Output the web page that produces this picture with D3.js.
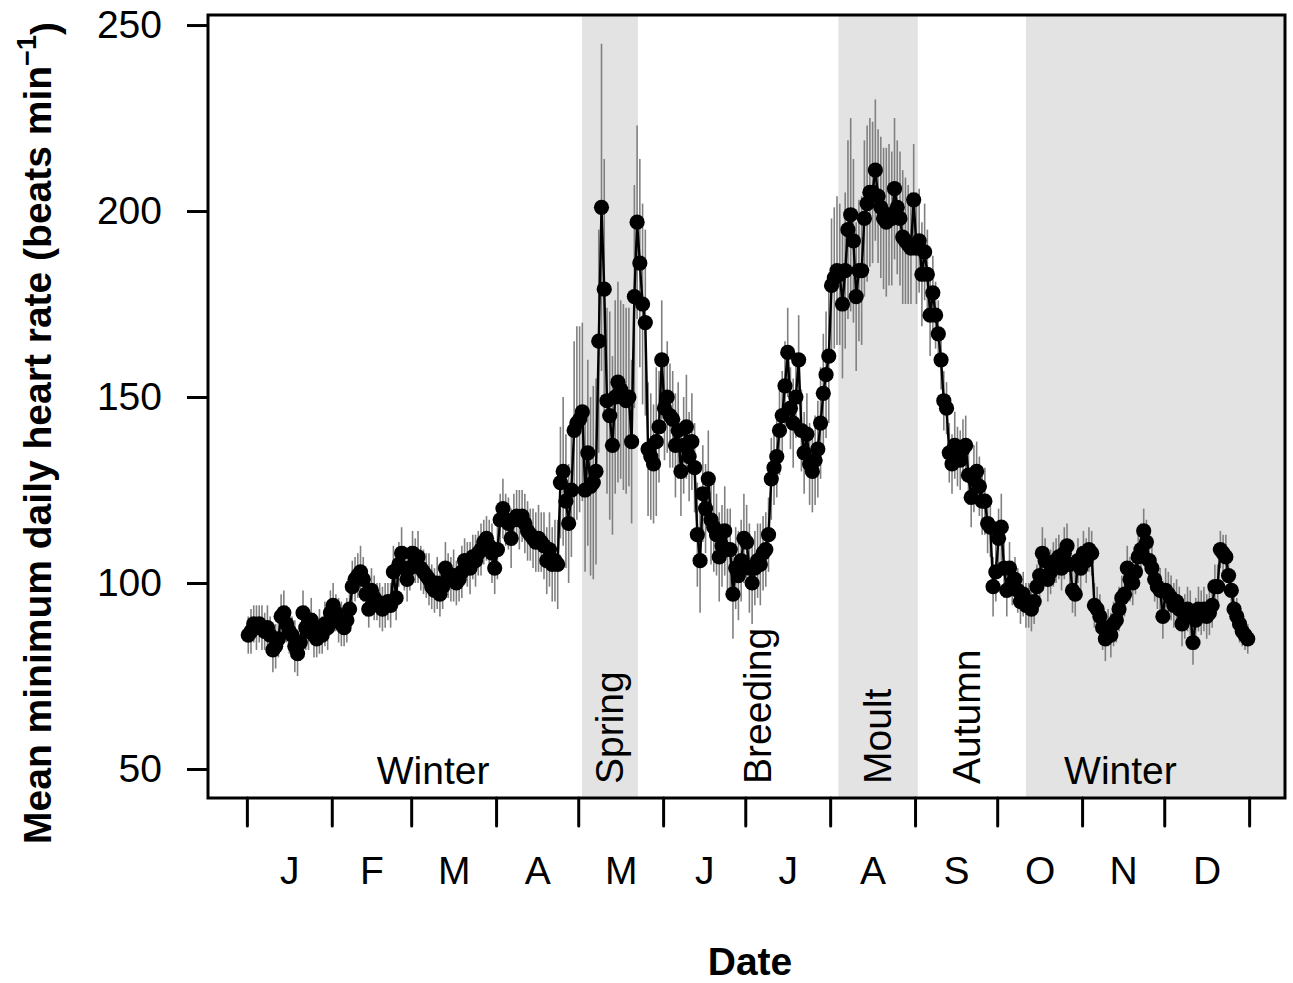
<!DOCTYPE html>
<html>
<head>
<meta charset="utf-8">
<script src="https://d3js.org/d3.v7.min.js"></script>
<style>
  body { margin: 0; background: #ffffff; }
  text { font-family: "Liberation Sans", Arial, sans-serif; fill: #000000; }
</style>
</head>
<body>
<script>
// month labels and days per month (leap year)
var monthLabels = ["J", "F", "M", "A", "M", "J", "J", "A", "S", "O", "N", "D"];
var monthDays = [31, 29, 31, 30, 31, 30, 31, 31, 30, 31, 30, 31];
var yTicks = [50, 100, 150, 200, 250];

// mean minimum daily heart rate (beats per minute), one value per day
var hrJan = [86, 87, 89, 88, 89, 88, 87, 88, 86, 82, 83, 85, 91, 92, 89, 87, 86, 83, 81, 84, 92, 88, 87, 90, 86, 85, 87, 86, 89, 88, 92];
var hrFeb = [94, 92, 90, 89, 88, 90, 93, 99, 101, 102, 103, 101, 97, 93, 98, 96, 95, 94, 93, 94, 95, 94, 103, 96, 105, 108, 104, 101, 104];
var hrMar = [108, 106, 107, 104, 103, 102, 101, 99, 98, 100, 97, 99, 104, 102, 101, 102, 100, 101, 103, 106, 105, 104, 107, 106, 108, 109, 111, 112, 110, 108, 104];
var hrApr = [109, 117, 120, 117, 116, 112, 117, 118, 117, 118, 116, 114, 113, 112, 111, 112, 111, 110, 106, 109, 105, 106, 105, 127, 130, 122, 116, 125, 141, 143];
var hrMay = [144, 146, 125, 135, 126, 127, 130, 165, 201, 179, 149, 145, 137, 150, 154, 152, 150, 149, 150, 138, 177, 197, 186, 175, 170, 136, 134, 132, 138, 142, 160];
var hrJun = [147, 150, 145, 144, 137, 141, 130, 137, 142, 134, 138, 131, 113, 106, 124, 120, 128, 117, 115, 113, 107, 110, 114, 109, 109, 97, 104, 102, 106, 112];
var hrJul = [111, 104, 100, 104, 106, 105, 108, 109, 113, 128, 131, 134, 141, 145, 153, 162, 147, 143, 150, 160, 141, 135, 140, 132, 130, 133, 136, 143, 151, 156, 161];
var hrAug = [180, 182, 184, 183, 175, 184, 195, 199, 192, 177, 184, 184, 198, 202, 205, 205, 211, 204, 201, 198, 197, 199, 198, 206, 201, 198, 193, 192, 191, 190, 203];
var hrSep = [190, 192, 183, 189, 183, 172, 178, 172, 167, 160, 149, 147, 135, 132, 137, 134, 133, 136, 137, 129, 123, 128, 130, 126, 122, 122, 116, 115, 99, 103];
var hrOct = [112, 115, 104, 98, 104, 100, 101, 98, 95, 97, 94, 94, 93, 95, 99, 102, 108, 106, 101, 103, 105, 106, 107, 104, 108, 110, 105, 98, 97, 106, 104];
var hrNov = [108, 106, 109, 108, 94, 93, 91, 88, 85, 88, 86, 89, 90, 93, 96, 97, 104, 101, 100, 103, 107, 109, 114, 111, 106, 104, 101, 99, 98, 91];
var hrDec = [98, 97, 96, 94, 95, 93, 89, 91, 93, 92, 84, 90, 93, 92, 93, 91, 92, 94, 99, 99, 109, 108, 107, 102, 98, 93, 91, 89, 87, 86, 85];

// half length of the error bars per day
var errJan = [5, 6, 5, 6, 5, 6, 5, 6, 5, 6, 6, 5, 6, 6, 5, 6, 5, 7, 6, 5, 6, 6, 5, 6, 6, 5, 6, 5, 6, 6, 6];
var errFeb = [6, 5, 6, 6, 5, 6, 6, 7, 6, 6, 7, 6, 6, 5, 6, 6, 5, 6, 6, 6, 5, 6, 7, 6, 6, 7, 6, 6, 6];
var errMar = [6, 6, 7, 6, 6, 6, 7, 6, 6, 7, 6, 6, 7, 6, 6, 7, 6, 6, 7, 6, 6, 7, 6, 7, 6, 7, 6, 6, 7, 8, 7];
var errApr = [8, 7, 8, 7, 7, 8, 7, 7, 8, 7, 8, 8, 7, 8, 8, 9, 8, 9, 9, 10, 10, 11, 12, 15, 20, 18, 16, 18, 24, 26];
var errMay = [25, 24, 22, 25, 24, 26, 25, 30, 44, 35, 25, 28, 24, 26, 27, 24, 25, 25, 24, 22, 30, 26, 28, 27, 25, 18, 17, 16, 20, 15, 16];
var errJun = [14, 15, 14, 13, 14, 13, 12, 13, 14, 12, 13, 12, 14, 14, 13, 12, 13, 12, 12, 11, 12, 11, 12, 11, 11, 12, 11, 12, 11, 12];
var errJul = [10, 12, 11, 10, 10, 11, 10, 10, 10, 11, 10, 11, 12, 12, 12, 12, 11, 12, 11, 12, 11, 11, 11, 11, 11, 12, 13, 15, 16, 17, 18];
var errAug = [18, 19, 20, 19, 20, 21, 24, 26, 22, 20, 19, 20, 21, 21, 20, 19, 19, 18, 19, 19, 20, 19, 18, 19, 18, 18, 18, 17, 16, 15, 15];
var errSep = [15, 14, 14, 13, 12, 11, 10, 9, 9, 8, 8, 7, 8, 8, 9, 8, 8, 8, 8, 8, 8, 9, 8, 8, 9, 9, 8, 8, 8, 8];
var errOct = [8, 9, 8, 7, 7, 6, 6, 6, 6, 6, 6, 6, 6, 6, 6, 6, 7, 6, 6, 6, 6, 6, 6, 6, 7, 6, 6, 6, 6, 6, 6];
var errNov = [6, 6, 6, 6, 6, 6, 6, 6, 6, 5, 6, 6, 6, 6, 6, 6, 6, 6, 6, 6, 6, 7, 6, 6, 6, 6, 6, 6, 6, 6];
var errDec = [6, 6, 6, 6, 6, 6, 6, 6, 6, 6, 6, 6, 6, 6, 6, 6, 6, 6, 6, 6, 5, 5, 6, 5, 5, 5, 5, 5, 4, 4, 4];

// shaded periods (day of year) and season labels
var shadeStart = [122.4, 216, 284.5];
var shadeEnd = [142.8, 245, 380];
var seasonNames = ["Winter", "Spring", "Breeding", "Moult", "Autumn", "Winter"];
var seasonDay = [68, 132.6, 186.5, 230.5, 263, 319];
var seasonRotated = [false, true, true, true, true, false];

var hrMonths = [hrJan, hrFeb, hrMar, hrApr, hrMay, hrJun, hrJul, hrAug, hrSep, hrOct, hrNov, hrDec];
var errMonths = [errJan, errFeb, errMar, errApr, errMay, errJun, errJul, errAug, errSep, errOct, errNov, errDec];

// combine the months into one list of days
var days = [];
var monthStart = [0];
var dayCount = 0;
for (var m = 0; m < hrMonths.length; m++) {
  for (var i = 0; i < hrMonths[m].length; i++) {
    days.push({day: dayCount + i + 0.5, hr: hrMonths[m][i], err: errMonths[m][i]});
  }
  dayCount += monthDays[m];
  monthStart.push(dayCount);
}
var monthMid = [];
for (var m = 0; m < monthDays.length; m++) {
  monthMid.push((monthStart[m] + monthStart[m + 1]) / 2);
}

// size of the svg and plot frame
var w = 1293;
var h = 983;
var plotLeft = 208;
var plotRight = 1285;
var plotTop = 15;
var plotBottom = 798;

// create x and y scale
var xScale = d3.scaleLinear()
               .domain([-14.2, 379.1])
               .range([plotLeft, plotRight]);

var yScale = d3.scaleLinear()
               .domain([42.2, 252.7])
               .range([plotBottom, plotTop]);

// create svg element
var svg = d3.select("body")
            .append("svg")
            .attr("width", w)
            .attr("height", h);

svg.append("rect")
   .attr("width", w)
   .attr("height", h)
   .attr("fill", "#ffffff");

// grey shaded seasons
svg.selectAll(".shade")
   .data(shadeStart)
   .enter()
   .append("rect")
   .attr("class", "shade")
   .attr("x", function(d) { return xScale(d); })
   .attr("y", plotTop)
   .attr("width", function(d, i) { return Math.min(xScale(shadeEnd[i]), plotRight) - xScale(d); })
   .attr("height", plotBottom - plotTop)
   .attr("fill", "#e3e3e3");

// error bars
svg.selectAll(".err")
   .data(days)
   .enter()
   .append("line")
   .attr("class", "err")
   .attr("x1", function(d) { return xScale(d.day); })
   .attr("x2", function(d) { return xScale(d.day); })
   .attr("y1", function(d) { return yScale(d.hr - d.err); })
   .attr("y2", function(d) { return yScale(d.hr + d.err); })
   .attr("stroke", "#808080")
   .attr("stroke-width", 1.6);

// line through the daily means
var line = d3.line()
             .x(function(d) { return xScale(d.day); })
             .y(function(d) { return yScale(d.hr); });

svg.append("path")
   .datum(days)
   .attr("d", line)
   .attr("fill", "none")
   .attr("stroke", "#000000")
   .attr("stroke-width", 2.4);

// points
svg.selectAll(".dot")
   .data(days)
   .enter()
   .append("circle")
   .attr("class", "dot")
   .attr("cx", function(d) { return xScale(d.day); })
   .attr("cy", function(d) { return yScale(d.hr); })
   .attr("r", 7.6)
   .attr("fill", "#000000");

// season labels
svg.selectAll(".season")
   .data(seasonNames)
   .enter()
   .append("text")
   .attr("class", "season")
   .attr("transform", function(d, i) {
      if (seasonRotated[i]) {
        return "translate(" + (xScale(seasonDay[i]) + 13) + "," + (yScale(50) + 15) + ") rotate(-90)";
      }
      return "translate(" + xScale(seasonDay[i]) + "," + (yScale(50) + 15) + ")";
   })
   .style("text-anchor", function(d, i) { return seasonRotated[i] ? "start" : "middle"; })
   .style("font-size", "39px")
   .text(function(d) { return d; });

// plot frame
svg.append("rect")
   .attr("x", plotLeft)
   .attr("y", plotTop)
   .attr("width", plotRight - plotLeft)
   .attr("height", plotBottom - plotTop)
   .attr("fill", "none")
   .attr("stroke", "#000000")
   .attr("stroke-width", 3);

// create y axis
var yAxis = d3.axisLeft(yScale)
              .tickValues(yTicks)
              .tickSize(21)
              .tickPadding(25);

var yG = svg.append("g")
            .attr("transform", "translate(" + plotLeft + ",0)")
            .call(yAxis);
yG.select(".domain").remove();
yG.selectAll("line").attr("stroke", "#000000").attr("stroke-width", 3);
yG.selectAll("text").style("font-size", "39px").attr("fill", "#000000");

// create x axis with month boundaries
var xAxis = d3.axisBottom(xScale)
              .tickValues(monthStart)
              .tickSize(28)
              .tickFormat("");

var xG = svg.append("g")
            .attr("transform", "translate(0," + plotBottom + ")")
            .call(xAxis);
xG.select(".domain").remove();
xG.selectAll("line").attr("stroke", "#000000").attr("stroke-width", 3).attr("stroke-linecap", "round");

// month labels in the middle of each month
var monthAxis = d3.axisBottom(xScale)
                  .tickValues(monthMid)
                  .tickSize(0)
                  .tickPadding(58)
                  .tickFormat(function(d, i) { return monthLabels[i]; });

var mG = svg.append("g")
            .attr("transform", "translate(0," + plotBottom + ")")
            .call(monthAxis);
mG.select(".domain").remove();
mG.selectAll("text").style("font-size", "39px").attr("fill", "#000000");

// add x label text
svg.append("text")
   .attr("x", 750)
   .attr("y", 975)
   .style("text-anchor", "middle")
   .style("font-size", "39px")
   .style("font-weight", "bold")
   .text("Date");

// add y label text
var yLabel = svg.append("text")
                .attr("transform", "translate(51,433) rotate(-90)")
                .style("text-anchor", "middle")
                .style("font-size", "39px")
                .style("font-weight", "bold");
yLabel.append("tspan").text("Mean minimum daily heart rate (beats min");
yLabel.append("tspan")
      .attr("dy", "-0.55em")
      .style("font-size", "27px")
      .text("\u22121");
yLabel.append("tspan")
      .attr("dy", "0.55em")
      .text(")");
</script>
</body>
</html>
